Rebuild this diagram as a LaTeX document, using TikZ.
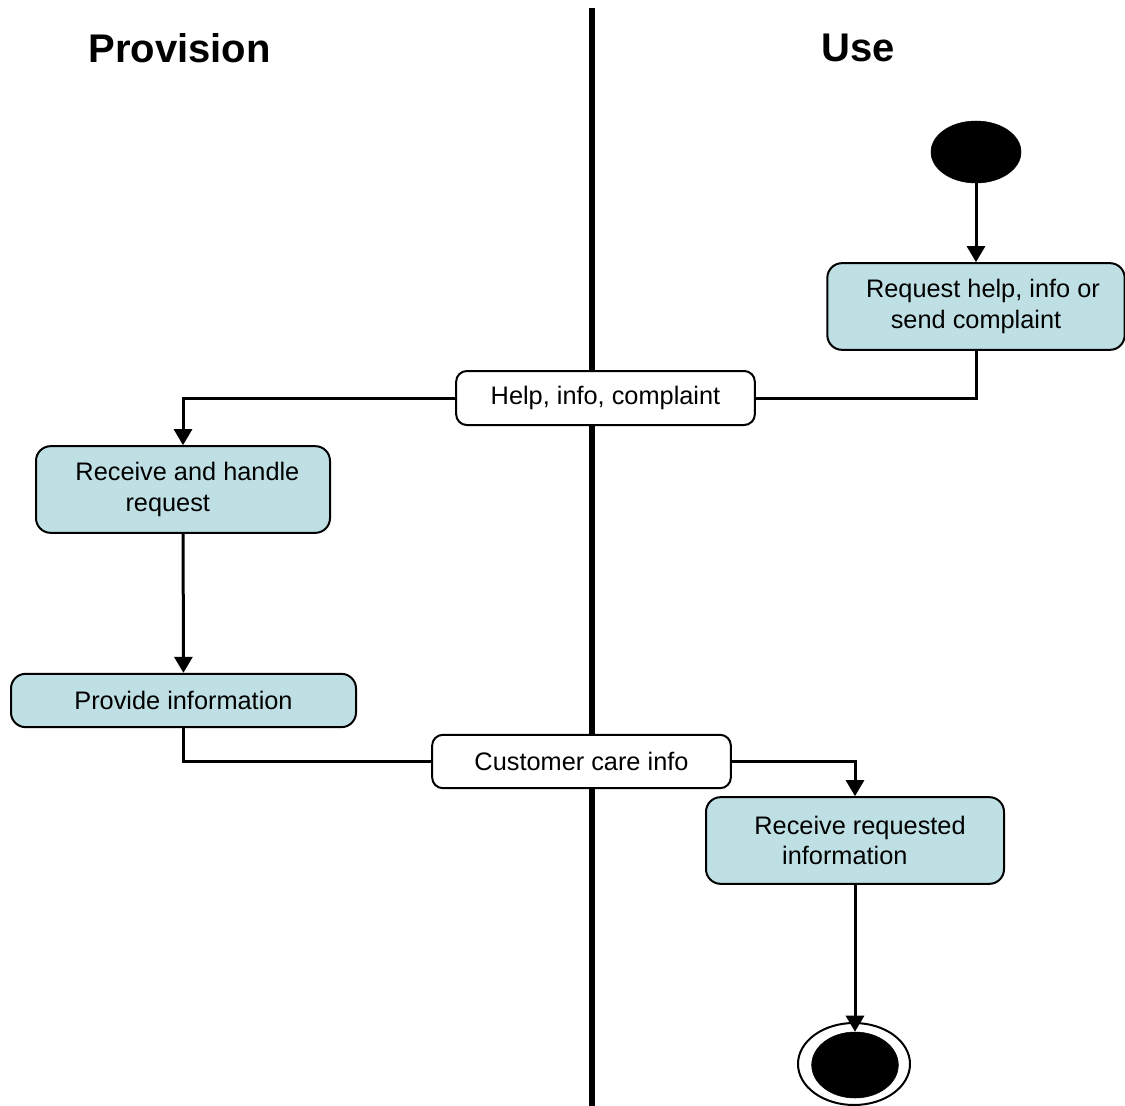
\documentclass[tikz,border=0pt]{standalone}
\usepackage{fontspec}
\setmainfont{Liberation Sans}
\usetikzlibrary{arrows.meta,shapes.geometric}
\definecolor{actfill}{RGB}{190,224,228}
\begin{document}
\begin{tikzpicture}[x=0.75pt,y=-0.75pt,
  every node/.style={font=\fontsize{19}{22.8}\selectfont},
  action/.style={draw,line width=1.5pt,rounded corners=11pt,fill=actfill,align=center,inner sep=2pt},
  object/.style={draw,line width=1.5pt,rounded corners=8pt,fill=white,align=center,inner sep=2pt},
  title/.style={font=\fontsize{30}{36}\selectfont\bfseries},
  flow/.style={line width=2.25pt},
  arrowflow/.style={flow,-{Triangle[width=13.5pt,length=12pt]}},
  startstate/.style={ellipse,fill=black,draw=black,inner sep=0pt},
]
\useasboundingbox (0,0) rectangle (1125,1106);

% swimlane divider
\coordinate (laneTop) at (592,8);
\coordinate (laneBot) at (592,1106);
\draw[line width=4.5pt] (laneTop) -- (laneBot);

% lane headings
\node[title] (provision) at (179.5,48) {Provision};
\node[title] (use) at (858,48) {Use};

% initial state
\node[startstate,minimum width=67.5pt,minimum height=46.5pt] (start) at (976,152) {};

% actions
\node[action,minimum width=223pt,minimum height=65pt] (request) at (976,306.5)
  {\hspace*{0.55em}Request help, info or\\send complaint};
\node[action,minimum width=220.5pt,minimum height=65pt] (handle) at (183,489.5)
  {\hspace*{0.35em}Receive and handle\\request\hspace*{1.2em}};
\node[action,minimum width=258.75pt,minimum height=40pt] (provide) at (183.5,700.5)
  {Provide information};
\node[action,minimum width=223.5pt,minimum height=65pt] (receive) at (855,840.5)
  {\hspace*{0.4em}Receive requested\\information\hspace*{0.8em}};

% object flows
\node[object,minimum width=224pt,minimum height=40.5pt] (helpinfo) at (605.5,398)
  {Help, info, complaint};
\node[object,minimum width=224pt,minimum height=40pt] (careinfo) at (581.5,761.5)
  {Customer care info};

% final state
\node[ellipse,draw,line width=1.5pt,fill=white,minimum width=84pt,minimum height=61.5pt,inner sep=0pt] (endring) at (854,1064) {};
\node[startstate,minimum width=65pt,minimum height=49.5pt] (finish) at (855,1065) {};

% connectors
\draw[arrowflow] (start) -- (request);
\draw[flow] (request.south) |- (helpinfo.east);
\draw[arrowflow] (helpinfo.west) -| (handle.north);
\draw[arrowflow] (handle) -- (provide);
\draw[flow] (provide.south) |- (careinfo.west);
\draw[arrowflow] (careinfo.east) -| (receive.north);
\draw[arrowflow] (receive.south) -- (finish.north);
\end{tikzpicture}
\end{document}
